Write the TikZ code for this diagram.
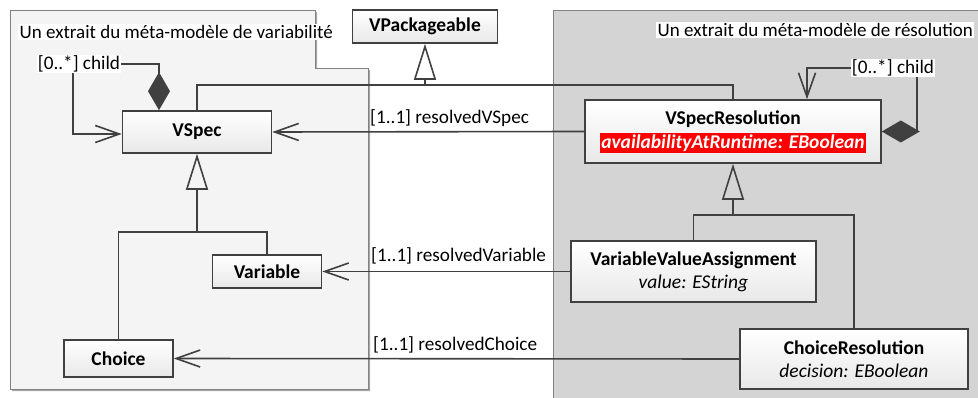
\documentclass[tikz,border=0pt]{standalone}
\usepackage{fontspec}
\setmainfont{Carlito}
\usepackage{xcolor}
\definecolor{umlline}{RGB}{64,64,64}
\definecolor{umlframe}{RGB}{130,130,130}
\definecolor{pkgleft}{RGB}{244,244,244}
\definecolor{pkgright}{RGB}{212,212,212}
\definecolor{umlred}{RGB}{255,0,0}
\usetikzlibrary{arrows.meta, calc}

\begin{document}
\begin{tikzpicture}[x=1pt, y=-1pt,
  cls/.style={rectangle, draw=umlline, line width=1.6pt,
              top color=white, bottom color=black!9,
              font=\fontsize{19.5}{23}\selectfont, align=center, inner sep=2pt},
  pkgtitle/.style={fill=white, inner sep=1.5pt, anchor=west,
                   font=\fontsize{19}{21}\selectfont},
  role/.style={inner sep=1pt, font=\fontsize{19.2}{21}\selectfont},
  line/.style={draw=umlline, line width=1.6pt},
  gen/.style={line, -{Triangle[open, length=36pt, width=22pt]}},
  assoc/.style={line, -{Straight Barb[length=24pt, width=17pt]}},
  comp/.style={line, {Diamond[length=38pt, width=22pt]}-}
]
\useasboundingbox (0,0) rectangle (978,398);

% Packages
\fill[black!35, shift={(2,2)}] (10,10) -- (315,10) -- (315,68) -- (368,68) -- (368,389) -- (10,389) -- cycle;
\filldraw[draw=umlframe, fill=pkgleft] (10,10) -- (315,10) -- (315,68) -- (368,68) -- (368,389) -- (10,389) -- cycle;
\fill[pkgright] (553,10) rectangle (978,398);
\draw[umlframe] (553,398) -- (553,10) -- (978,10);
\node[pkgtitle] (vartitle) at (18,32) {Un extrait du méta-modèle de variabilité};
\node[pkgtitle] (restitle) at (656,30) {Un extrait du méta-modèle de résolution};

% Variability classes
\node[cls, minimum width=145pt, minimum height=33pt] (vpack) at (425,26.5) {\textbf{VPackageable}};
\node[cls, minimum width=149pt, minimum height=42pt] (vspec) at (197,132) {\textbf{VSpec}};
\node[cls, minimum width=109pt, minimum height=33pt] (variable) at (267,271.5) {\textbf{Variable}};
\node[cls, minimum width=109pt, minimum height=37pt] (choice) at (118.5,358.5) {\textbf{Choice}};

% Resolution classes
\node[cls, minimum width=296pt, minimum height=63pt] (vspecres) at (733,131.5)
  {\textbf{VSpecResolution}\\[1pt]{\fboxsep=1.5pt\colorbox{umlred}{\color{white}\bfseries\itshape availabilityAtRuntime: EBoolean}}};
\node[cls, minimum width=245pt, minimum height=61pt] (vva) at (693.5,271.5)
  {\textbf{VariableValueAssignment}\\\textit{value: EString}};
\node[cls, minimum width=228pt, minimum height=60pt] (choiceres) at (854,359)
  {\textbf{ChoiceResolution}\\\textit{decision: EBoolean}};

% Generalisations
\coordinate (pkgjoin) at (425,85);
\coordinate (vspecjoin) at (197,232);
\coordinate (resjoin) at (733,215);
\draw[line] (vspec.north) |- (pkgjoin) -| (vspecres.north);
\draw[gen] (pkgjoin) -- (vpack.south);
\draw[line] (variable.north) |- (vspecjoin) -| (choice.north);
\draw[gen] (vspecjoin) -- (vspec.south);
\draw[line] (vva.north) |- (resjoin) -| (choiceres.north);
\draw[gen] (resjoin) -- (vspecres.south);

% Self compositions
\node[role, fill=white] (varchild) at (79,64) {[0..*] child};
\draw[comp] ([xshift=-38pt]vspec.north) |- (varchild.east);
\draw[assoc] ([xshift=-6pt]varchild.south) |- ([yshift=-2pt]vspec.west);
\node[role, fill=white] (reschild) at (893,68) {[0..*] child};
\draw[comp] (vspecres.east) -| ([xshift=24pt]reschild.south);
\draw[assoc] (reschild.west) -| ([xshift=74pt]vspecres.north);

% Resolution links
\draw[assoc] (vspecres.west) -- (vspec.east);
\node[role, anchor=west] (lvspec) at (369,118) {[1..1] resolvedVSpec};
\draw[assoc] (vva.west) -- (variable.east);
\node[role, anchor=west] (lvariable) at (370,256) {[1..1] resolvedVariable};
\draw[assoc] (choiceres.west) -- (choice.east);
\node[role, anchor=west] (lchoice) at (372,345) {[1..1] resolvedChoice};
\end{tikzpicture}
\end{document}
